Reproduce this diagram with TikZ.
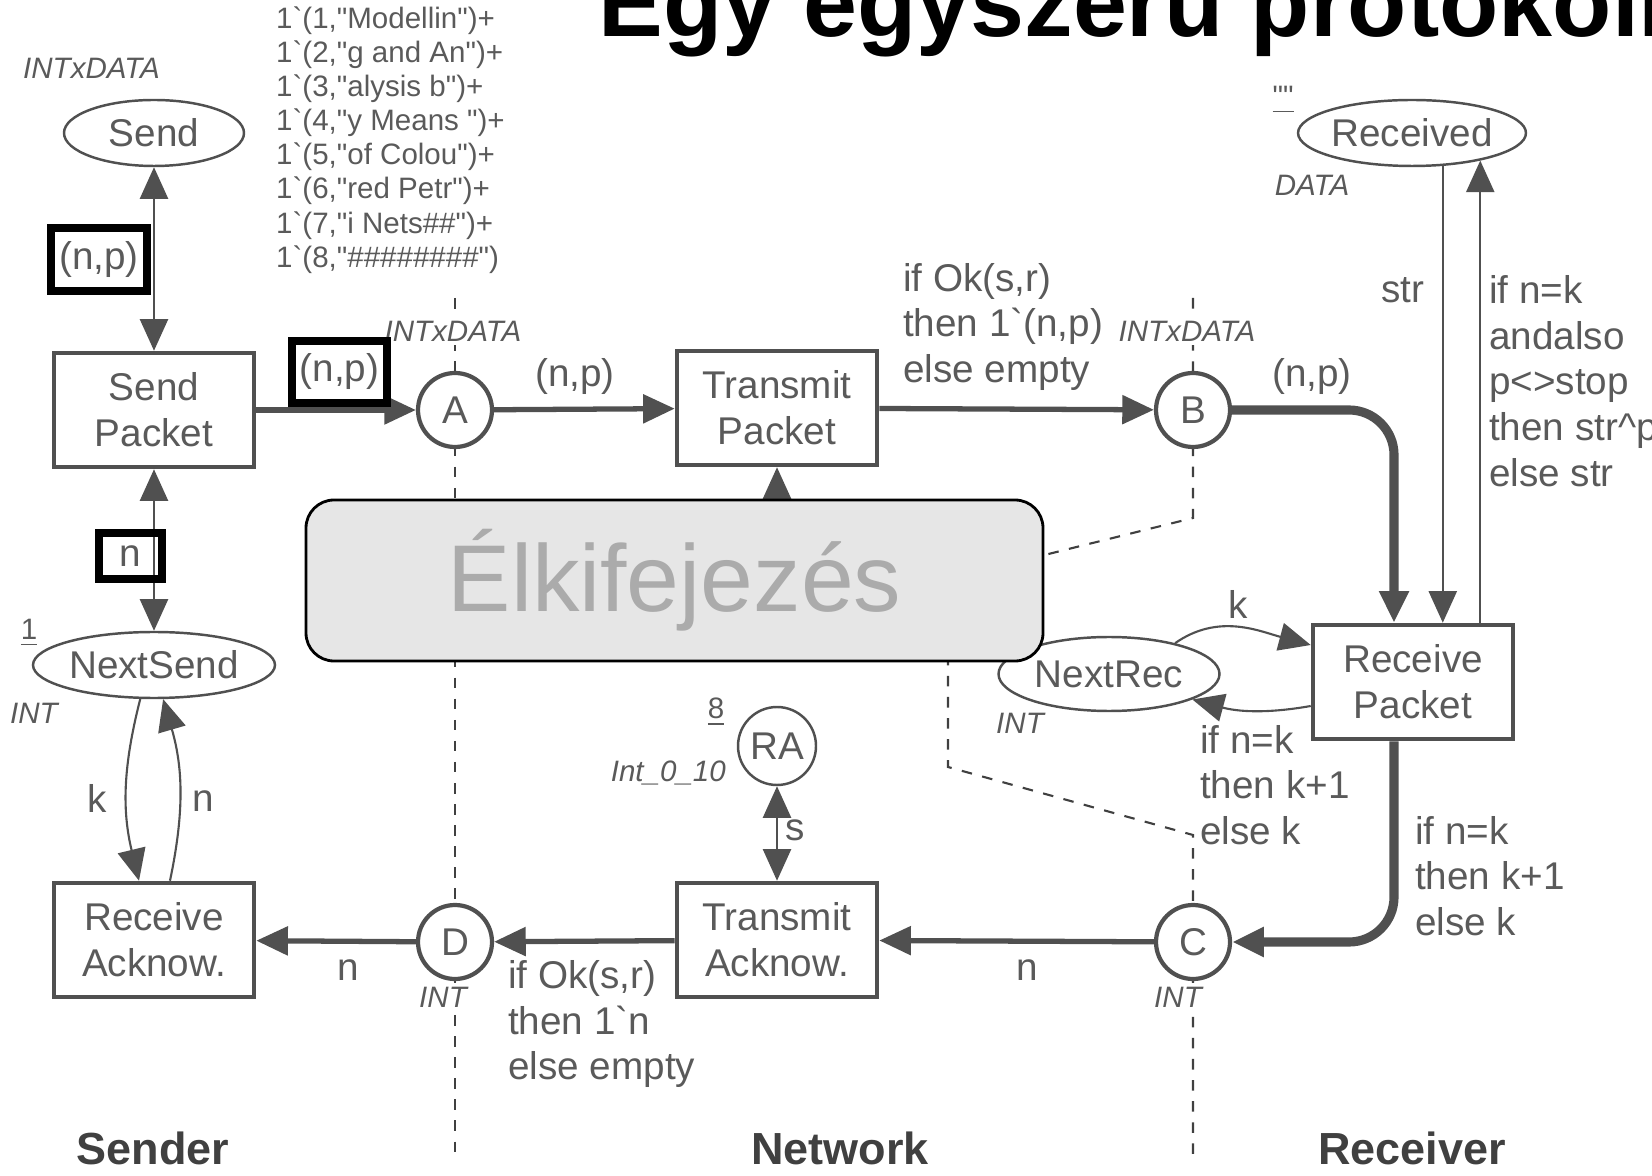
\documentclass[tikz,border=0pt]{standalone}
\usepackage{fontspec}
\setmainfont{Liberation Sans}
\usetikzlibrary{arrows.meta, positioning, shapes.geometric, calc}
\definecolor{netline}{HTML}{505050}
\definecolor{nettext}{HTML}{5A5A5A}
\definecolor{boxfill}{HTML}{E6E6E6}
\definecolor{boxtext}{HTML}{ABABAB}
\newcommand{\bqt}{\textasciigrave}
\newcommand{\dqt}{\textquotedbl}

\begin{document}
\begin{tikzpicture}[
    >={Triangle[length=9pt, width=8pt]},
    place/.style={ellipse, draw=netline, line width=0.7pt, fill=white, text=nettext,
                  font=\fontsize{11}{13}\selectfont, minimum height=0.66cm, inner sep=0pt},
    port/.style={circle, draw=netline, line width=1.2pt, fill=white, text=nettext,
                 font=\fontsize{11}{13}\selectfont, minimum size=0.74cm, inner sep=0pt},
    trans/.style={draw=netline, line width=1.3pt, fill=white, text=nettext, align=center,
                  font=\fontsize{11}{13}\selectfont, minimum width=2.0cm, minimum height=1.14cm},
    heavyarc/.style={line width=1.5pt, netline},
    fatarc/.style={line width=2.6pt, netline, rounded corners=0.45cm},
    lightarc/.style={line width=0.6pt, netline},
    inscr/.style={text=nettext, font=\fontsize{11}{13}\selectfont, align=left, inner sep=1pt},
    colset/.style={text=nettext, font=\fontsize{8.4}{9.7}\selectfont\itshape, fill=white, inner sep=1pt},
    marking/.style={text=nettext, font=\fontsize{8.4}{9.7}\selectfont, inner sep=1pt, align=left},
    hilite/.style={draw=black, line width=2.2pt, inner sep=0pt},
    boundary/.style={dashed, line width=0.6pt, black!75},
    side/.style={text=black!75, font=\fontsize{12.8}{15}\selectfont\bfseries},
]
    \useasboundingbox (0,0) rectangle (16.52,-11.76);
    \clip (0,0) rectangle (16.52,-11.76);

    % slide title, cut at the top
    \node[anchor=base west, inner sep=0pt, font=\fontsize{27.6}{30}\selectfont\bfseries] (title)
        at (5.98,-0.37) {Egy egyszerű protokoll};

    % sender / network / receiver boundaries
    \draw[boundary] (4.55,-2.98) -- (4.55,-11.6);
    \draw[boundary] (11.93,-2.98) -- (11.93,-5.18) -- (9.48,-5.79) -- (9.48,-7.67)
        -- (11.93,-8.35) -- (11.93,-11.6);

    % places
    \node[place, minimum width=1.8cm] (send) at (1.54,-1.33) {Send};
    \node[place, minimum width=1.95cm] (received) at (14.12,-1.33) {Received};
    \node[place, minimum width=2.42cm] (nextSend) at (1.54,-6.65) {NextSend};
    \node[place, minimum width=2.21cm, minimum height=0.74cm] (nextRec) at (11.09,-6.74) {NextRec};
    \node[port] (A) at (4.55,-4.10) {A};
    \node[port] (B) at (11.93,-4.10) {B};
    \node[port] (C) at (11.93,-9.42) {C};
    \node[port] (D) at (4.55,-9.42) {D};
    \node[port, line width=0.7pt, minimum size=0.78cm] (RA) at (7.77,-7.46) {RA};

    % transitions
    \node[trans] (sendPacket) at (1.54,-4.10) {Send\\Packet};
    \node[trans] (transmitPacket) at (7.77,-4.08) {Transmit\\Packet};
    \node[trans] (receivePacket) at (14.13,-6.82) {Receive\\Packet};
    \node[trans] (transmitAck) at (7.77,-9.40) {Transmit\\Acknow.};
    \node[trans] (receiveAck) at (1.54,-9.40) {Receive\\Acknow.};

    % colour sets and initial markings
    \node[colset, anchor=west] at (0.19,-0.68) {INTxDATA};
    \node[colset] at (4.53,-3.31) {INTxDATA};
    \node[colset] at (11.87,-3.31) {INTxDATA};
    \node[colset] at (13.12,-1.85) {DATA};
    \node[colset] at (0.34,-7.13) {INT};
    \node[colset] at (10.20,-7.23) {INT};
    \node[colset] at (4.43,-9.97) {INT};
    \node[colset] at (11.78,-9.97) {INT};
    \node[colset, anchor=east] at (7.30,-7.73) {Int\_0\_10};
    \node[marking] at (0.29,-6.33) {\underline{1}};
    \node[marking] at (7.16,-7.12) {\underline{8}};
    \node[marking] at (12.83,-1.00) {\underline{\dqt\dqt}};
    \node[marking, anchor=west] (sendInit) at (2.72,-1.40) {1\bqt(1,\dqt Modellin\dqt)+\\1\bqt(2,\dqt g and An\dqt)+\\
        1\bqt(3,\dqt alysis b\dqt)+\\1\bqt(4,\dqt y Means \dqt)+\\1\bqt(5,\dqt of Colou\dqt)+\\1\bqt(6,\dqt red Petr\dqt)+\\
        1\bqt(7,\dqt i Nets\#\#\dqt)+\\1\bqt(8,\dqt\#\#\#\#\#\#\#\#\dqt)};

    % arcs
    \coordinate (rpHidden) at (7.77,-6.0);
    \draw[lightarc, <->] (sendPacket) -- (send);
    \draw[lightarc, <->] (sendPacket) -- (nextSend);
    \draw[heavyarc, ->] (sendPacket) -- (A);
    \draw[heavyarc, ->] (A) -- (transmitPacket);
    \draw[heavyarc, ->] (transmitPacket) -- (B);
    \draw[lightarc, ->] (rpHidden) -- (transmitPacket);
    \draw[fatarc, ->] (B) -| ([xshift=-1.9mm]receivePacket.north);
    \draw[lightarc, ->] (received.-47) -- (received.-47 |- receivePacket.north);
    \draw[lightarc, ->] (receivePacket.north -| received.-22) -- (received.-22);
    \draw[lightarc, ->] (nextRec.25) to[out=35, in=165] ([yshift=3.7mm]receivePacket.west);
    \draw[lightarc, ->] ([yshift=-2.4mm]receivePacket.west) to[out=190, in=-15] (nextRec.-17);
    \draw[fatarc, ->] ([xshift=-1.9mm]receivePacket.south) |- (C);
    \draw[heavyarc, ->] (C) -- (transmitAck);
    \draw[lightarc, <->] (RA) -- (transmitAck);
    \draw[heavyarc, ->] (transmitAck) -- (D);
    \draw[heavyarc, ->] (D) -- (receiveAck);
    \draw[lightarc, ->] (nextSend.-112) to[bend right=14] ([xshift=-1.5mm]receiveAck.north);
    \draw[lightarc, ->] ([xshift=1.6mm]receiveAck.north) to[bend right=14] (nextSend.-75);

    % arc inscriptions
    \node[inscr] at (5.75,-3.77) {(n,p)};
    \node[inscr, anchor=west] at (8.99,-3.27) {if Ok(s,r)\\then 1\bqt(n,p)\\else empty};
    \node[inscr] at (13.12,-3.77) {(n,p)};
    \node[inscr] at (14.03,-2.90) {str};
    \node[inscr, anchor=west] at (14.85,-3.81) {if n=k\\andalso\\p<>stop\\then str\textasciicircum p\\else str};
    \node[inscr] at (12.38,-6.04) {k};
    \node[inscr, anchor=west] at (11.96,-7.85) {if n=k\\then k+1\\else k};
    \node[inscr, anchor=west] at (14.11,-8.76) {if n=k\\then k+1\\else k};
    \node[inscr] at (10.27,-9.70) {n};
    \node[inscr] at (7.95,-8.30) {s};
    \node[inscr, anchor=west] at (5.04,-10.24) {if Ok(s,r)\\then 1\bqt n\\else empty};
    \node[inscr] at (3.48,-9.70) {n};
    \node[inscr] at (0.97,-7.98) {k};
    \node[inscr] at (2.03,-8.01) {n};

    % highlighted inscriptions
    \node[inscr, hilite, minimum width=0.965cm, minimum height=0.635cm] (hlSend) at (0.99,-2.595) {(n,p)};
    \node[inscr, hilite, minimum width=0.955cm, minimum height=0.625cm] (hlA) at (3.395,-3.72) {(n,p)};
    \node[inscr, hilite, minimum width=0.635cm, minimum height=0.465cm] (hlNext) at (1.305,-5.56) {n};

    % overlay
    \node[draw=black, line width=0.8pt, fill=boxfill, rounded corners=0.28cm, minimum width=7.37cm,
          minimum height=1.61cm, text=boxtext, font=\fontsize{27}{30}\selectfont] (exprNote)
        at (6.745,-5.805) {Élkifejezés};

    % sides
    \node[side] at (1.53,-11.48) {Sender};
    \node[side] at (8.40,-11.48) {Network};
    \node[side] at (14.12,-11.48) {Receiver};
\end{tikzpicture}
\end{document}
